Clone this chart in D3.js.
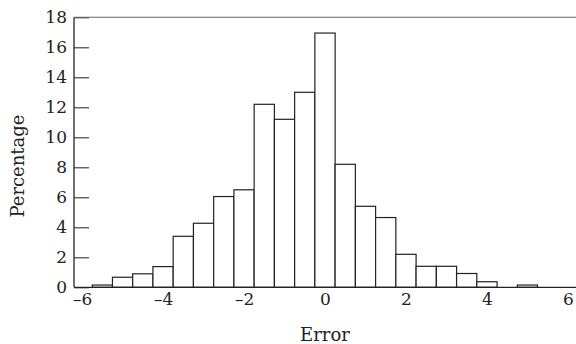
<!DOCTYPE html>
<html>
<head>
<meta charset="utf-8">
<script src="https://cdn.jsdelivr.net/npm/d3@7"></script>
<style>
  html, body { margin: 0; padding: 0; background: #fff; }
  svg { display: block; }
  text { font-family: "DejaVu Serif", "Liberation Serif", serif; fill: #222; }
</style>
</head>
<body>
<svg id="chart" width="576" height="344"></svg>
<script>
// Histogram data: bin centres (width 0.5) and percentage in each bin
const binCenters = [-5.5, -5, -4.5, -4, -3.5, -3, -2.5, -2, -1.5, -1, -0.5, 0,
                    0.5, 1, 1.5, 2, 2.5, 3, 3.5, 4, 4.5, 5];
const percentages = [0.15, 0.67, 0.9, 1.38, 3.4, 4.27, 6.05, 6.5, 12.2, 11.2, 13.0, 16.95,
                     8.2, 5.4, 4.65, 2.2, 1.4, 1.4, 0.92, 0.37, 0, 0.15];
const binWidth = 0.5;
const xTicks = [-6, -4, -2, 0, 2, 4, 6];
const yTicks = [0, 2, 4, 6, 8, 10, 12, 14, 16, 18];
const xLabel = "Error";
const yLabel = "Percentage";

(function () {
const svg = d3.select("#chart");
const mL = 74, mR = 576, mT = 17.3, mB = 287.3;

const x = d3.scaleLinear().domain([-6.2, 6.2]).range([mL, mR]);
const y = d3.scaleLinear().domain([0, 18]).range([mB, mT]);

const fmt = d => (d < 0 ? "\u2013" + Math.abs(d) : String(d));

// bars
svg.append("g").selectAll("rect")
  .data(binCenters.map((c, i) => ({ c, v: percentages[i] })).filter(d => d.v > 0))
  .join("rect")
  .attr("x", d => x(d.c - binWidth / 2))
  .attr("width", d => x(d.c + binWidth / 2) - x(d.c - binWidth / 2))
  .attr("y", d => y(d.v))
  .attr("height", d => y(0) - y(d.v))
  .attr("fill", "#fff")
  .attr("stroke", "#222")
  .attr("stroke-width", 1.2);

// y axis with inward ticks
const yAxis = d3.axisLeft(y).tickValues(yTicks).tickSize(-15).tickPadding(7).tickFormat(fmt);
const gy = svg.append("g").attr("transform", `translate(${mL},0)`).call(yAxis);
gy.select(".domain").remove();
gy.selectAll(".tick line").attr("stroke", "#333").attr("stroke-width", 1.1);
gy.selectAll(".tick text").attr("font-size", 17).attr("fill", "#222")
  .attr("font-family", "DejaVu Serif, serif");

// x axis labels (no tick marks)
const xAxis = d3.axisBottom(x).tickValues(xTicks).tickSize(0).tickPadding(6).tickFormat(fmt);
const gx = svg.append("g").attr("transform", `translate(0,${mB})`).call(xAxis);
gx.select(".domain").remove();
gx.selectAll(".tick text").attr("font-size", 17).attr("fill", "#222")
  .attr("font-family", "DejaVu Serif, serif");

// frame lines
svg.append("line").attr("x1", mL).attr("x2", mL).attr("y1", mT).attr("y2", mB)
  .attr("stroke", "#222").attr("stroke-width", 1.3);
svg.append("line").attr("x1", mL).attr("x2", mR).attr("y1", mB).attr("y2", mB)
  .attr("stroke", "#222").attr("stroke-width", 1.3);
svg.append("line").attr("x1", mL).attr("x2", mR).attr("y1", mT).attr("y2", mT)
  .attr("stroke", "#666").attr("stroke-width", 1.1);

// axis titles
svg.append("text").attr("x", (mL + mR) / 2).attr("y", 341)
  .attr("text-anchor", "middle").attr("font-size", 18).text(xLabel);
svg.append("text").attr("transform", `translate(23.5,166) rotate(-90)`)
  .attr("text-anchor", "middle").attr("font-size", 18).text(yLabel);
})();
</script>
</body>
</html>
